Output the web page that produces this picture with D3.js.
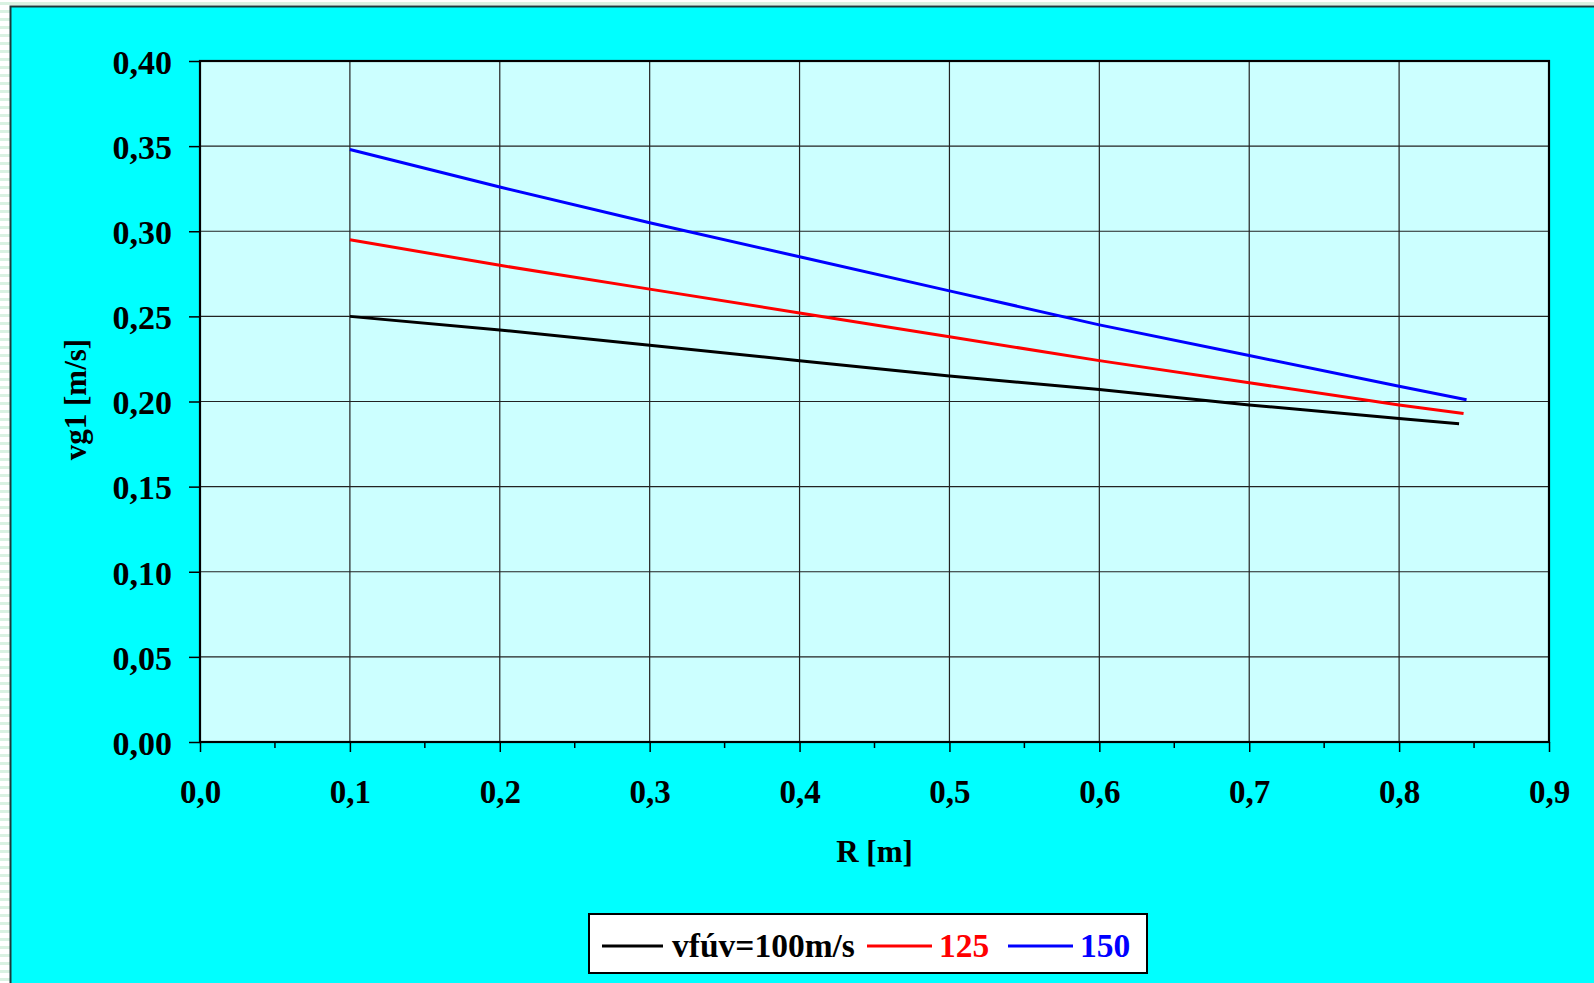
<!DOCTYPE html>
<html>
<head>
<meta charset="utf-8">
<script src="https://cdn.jsdelivr.net/npm/d3@7"></script>
<style>
  html, body { margin: 0; padding: 0; background: #fff; }
  svg { display: block; }
  text { font-family: "Liberation Serif", "Times New Roman", serif; font-weight: bold; }
</style>
</head>
<body>
<svg id="chart" width="1594" height="983"></svg>
<script>
// Radius values (m) at which the velocity was read
const radius = [0.10, 0.20, 0.30, 0.40, 0.50, 0.60, 0.70, 0.80];
// Last radius of each curve
const radiusEnd = { v100: 0.840, v125: 0.843, v150: 0.845 };

// vg1 (m/s) for blower velocity 100, 125 and 150 m/s
const v100 = [0.250, 0.242, 0.233, 0.224, 0.215, 0.207, 0.198, 0.190];
const v100End = 0.187;
const v125 = [0.295, 0.280, 0.266, 0.252, 0.238, 0.224, 0.211, 0.198];
const v125End = 0.193;
const v150 = [0.348, 0.326, 0.305, 0.285, 0.265, 0.245, 0.227, 0.209];
const v150End = 0.201;

const xTicks = [0, 0.1, 0.2, 0.3, 0.4, 0.5, 0.6, 0.7, 0.8, 0.9];
const xMinorTicks = [0.05, 0.15, 0.25, 0.35, 0.45, 0.55, 0.65, 0.75, 0.85];
const yTicks = [0, 0.05, 0.10, 0.15, 0.20, 0.25, 0.30, 0.35, 0.40];

const legendLabels = ["vfúv=100m/s", "125", "150"];
const seriesColors = ["#000000", "#ff0000", "#0000ff"];

const series = [
  { key: "v100", values: v100, end: v100End },
  { key: "v125", values: v125, end: v125End },
  { key: "v150", values: v150, end: v150End }
].map((s, i) => ({
  color: seriesColors[i],
  points: radius.map((r, j) => [r, s.values[j]]).concat([[radiusEnd[s.key], s.end]])
}));

const svg = d3.select("#chart");
const W = 1594, H = 983;
const plot = { left: 200, top: 61, right: 1549, bottom: 742 };

// Striped page margin and cyan chart area
const defs = svg.append("defs");
const pat = defs.append("pattern").attr("id", "stripes")
  .attr("width", 8).attr("height", 8).attr("patternUnits", "userSpaceOnUse");
pat.append("rect").attr("width", 8).attr("height", 8).attr("fill", "#ffffff");
pat.append("rect").attr("y", 2).attr("width", 8).attr("height", 3).attr("fill", "#d9f2e2");
svg.append("rect").attr("width", W).attr("height", H).attr("fill", "url(#stripes)");
svg.append("rect").attr("x", 10).attr("y", 6).attr("width", W - 10).attr("height", H - 6)
  .attr("fill", "#00ffff");
svg.append("path").attr("d", `M10.5,${H}V6.5H${W}`)
  .attr("fill", "none").attr("stroke", "#1a3a3a").attr("stroke-width", 2);

const x = d3.scaleLinear().domain([0, 0.9]).range([plot.left, plot.right]);
const y = d3.scaleLinear().domain([0, 0.4]).range([plot.bottom, plot.top]);

// Plot background
svg.append("rect")
  .attr("x", plot.left).attr("y", plot.top)
  .attr("width", plot.right - plot.left).attr("height", plot.bottom - plot.top)
  .attr("fill", "#ccffff");

// Gridlines
const grid = svg.append("g").attr("stroke", "#222").attr("stroke-width", 1.2);
grid.selectAll("line.gx").data(xTicks.slice(1, -1)).join("line")
  .attr("x1", d => x(d)).attr("x2", d => x(d))
  .attr("y1", plot.top).attr("y2", plot.bottom);
grid.selectAll("line.gy").data(yTicks.slice(1, -1)).join("line")
  .attr("x1", plot.left).attr("x2", plot.right)
  .attr("y1", d => y(d)).attr("y2", d => y(d));

// Series lines
const line = d3.line().x(d => x(d[0])).y(d => y(d[1]));
svg.append("g").selectAll("path").data(series).join("path")
  .attr("d", d => line(d.points))
  .attr("fill", "none")
  .attr("stroke", d => d.color)
  .attr("stroke-width", 3)
  .attr("stroke-linejoin", "round");

// Plot frame
svg.append("rect")
  .attr("x", plot.left).attr("y", plot.top)
  .attr("width", plot.right - plot.left).attr("height", plot.bottom - plot.top)
  .attr("fill", "none").attr("stroke", "#000").attr("stroke-width", 2.2);

const fmt = (d, n) => d.toFixed(n).replace(".", ",");

// X axis
const xAxis = d3.axisBottom(x).tickValues(xTicks).tickSize(10).tickFormat(d => fmt(d, 1));
const gx = svg.append("g").attr("transform", `translate(0,${plot.bottom})`).call(xAxis);
gx.select(".domain").remove();
gx.selectAll(".tick line").attr("stroke", "#000").attr("stroke-width", 1.5);
gx.selectAll(".tick text").attr("fill", "#000").attr("font-size", 33)
  .attr("font-family", null).attr("y", 0).attr("dy", 61);
svg.append("g").selectAll("line").data(xMinorTicks).join("line")
  .attr("x1", d => x(d)).attr("x2", d => x(d))
  .attr("y1", plot.bottom).attr("y2", plot.bottom + 6)
  .attr("stroke", "#000").attr("stroke-width", 1.5);

// Y axis
const yAxis = d3.axisLeft(y).tickValues(yTicks).tickSize(11).tickFormat(d => fmt(d, 2));
const gy = svg.append("g").attr("transform", `translate(${plot.left},0)`).call(yAxis);
gy.select(".domain").remove();
gy.selectAll(".tick line").attr("stroke", "#000").attr("stroke-width", 1.5);
gy.selectAll(".tick text").attr("fill", "#000").attr("font-size", 34)
  .attr("font-family", null).attr("x", -28).attr("dy", "0.36em");

// Axis titles
svg.append("text")
  .attr("x", (plot.left + plot.right) / 2).attr("y", 862)
  .attr("text-anchor", "middle").attr("font-size", 31)
  .text("R [m]");
svg.append("text")
  .attr("transform", `translate(86,${(plot.top + plot.bottom) / 2 - 2}) rotate(-90)`)
  .attr("text-anchor", "middle").attr("font-size", 31)
  .text("vg1 [m/s]");

// Legend
const lg = svg.append("g");
lg.append("rect").attr("x", 589).attr("y", 914).attr("width", 558).attr("height", 59)
  .attr("fill", "#fff").attr("stroke", "#000").attr("stroke-width", 2);
const legendItems = [
  { x1: 602, x2: 663, tx: 672 },
  { x1: 867, x2: 932, tx: 939 },
  { x1: 1008, x2: 1073, tx: 1080 }
];
legendItems.forEach((it, i) => {
  lg.append("line").attr("x1", it.x1).attr("x2", it.x2).attr("y1", 946).attr("y2", 946)
    .attr("stroke", seriesColors[i]).attr("stroke-width", 2.8);
  lg.append("text").attr("x", it.tx).attr("y", 957).attr("font-size", 33.5)
    .attr("fill", seriesColors[i]).text(legendLabels[i]);
});
</script>
</body>
</html>
